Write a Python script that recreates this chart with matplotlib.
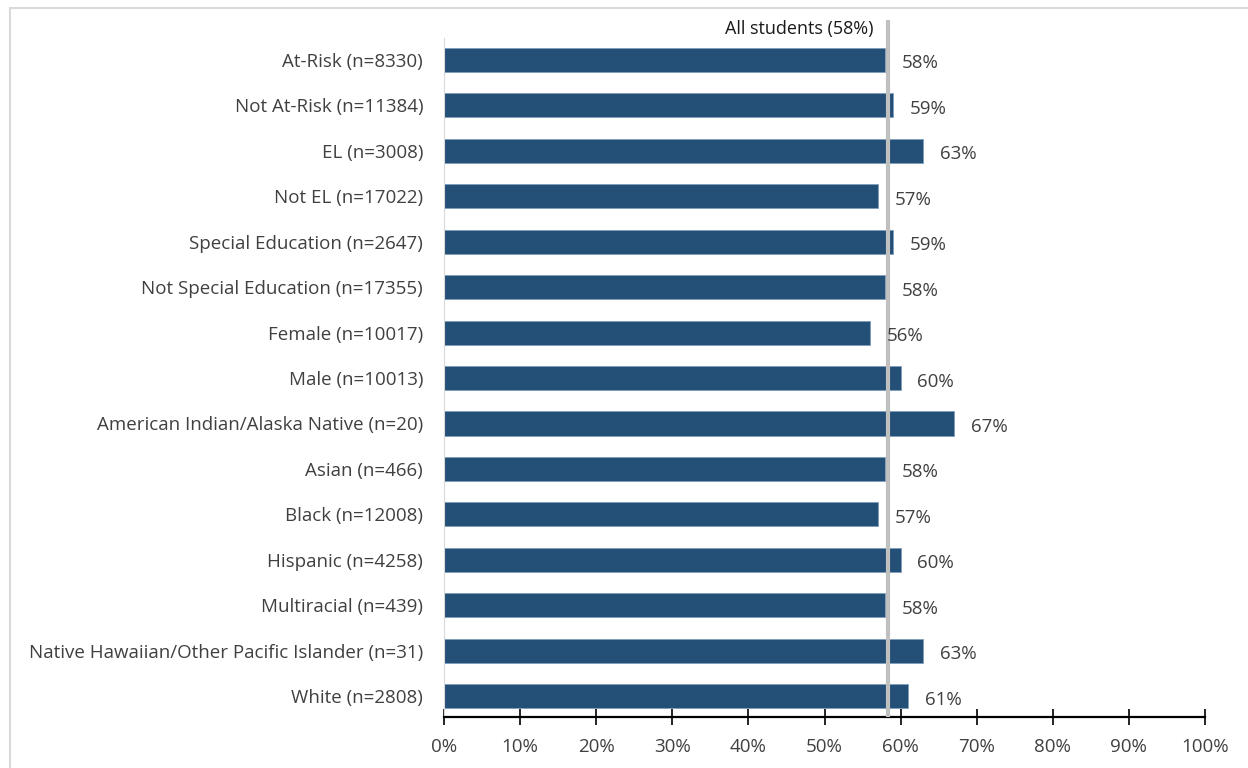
import matplotlib
matplotlib.use("Agg")
import matplotlib.pyplot as plt
from matplotlib.patches import Rectangle
from matplotlib.ticker import FuncFormatter

categories = [
    "At-Risk (n=8330)",
    "Not At-Risk (n=11384)",
    "EL (n=3008)",
    "Not EL (n=17022)",
    "Special Education (n=2647)",
    "Not Special Education (n=17355)",
    "Female (n=10017)",
    "Male (n=10013)",
    "American Indian/Alaska Native (n=20)",
    "Asian (n=466)",
    "Black (n=12008)",
    "Hispanic (n=4258)",
    "Multiracial (n=439)",
    "Native Hawaiian/Other Pacific Islander (n=31)",
    "White (n=2808)",
]
values = [58, 59, 63, 57, 59, 58, 56, 60, 67, 58, 57, 60, 58, 63, 61]
all_students = 58.3
all_label = "All students (58%)"
xticks = [0, 10, 20, 30, 40, 50, 60, 70, 80, 90, 100]

plt.rcParams["font.family"] = ["Open Sans", "DejaVu Sans"]
FS = 13.5
W, H = 1248, 768
fig = plt.figure(figsize=(W / 100, H / 100), dpi=100)

# outer frame
fig.patches.append(Rectangle((10 / W, -0.05), 1.2, 1 - 8 / H + 0.05,
                             transform=fig.transFigure, fill=False,
                             edgecolor="#d9d9d9", linewidth=1.5, zorder=0))

ax = fig.add_axes([444 / W, 1 - 717 / H, (1205 - 444) / W, (717 - 20) / H])
ypos = list(range(len(categories)))
ax.barh(ypos, values, height=0.53, color="#244f77", edgecolor="#7f9dbb",
        linewidth=0.6, zorder=2)
ax.set_ylim(14.46, -0.88)
ax.set_xlim(0, 100)

ax.axvline(all_students, color="#c0c0c0", linewidth=3, zorder=3)
ax.text(all_students - 1.9, -0.68, all_label, ha="right", va="center",
        fontsize=FS - 0.5, color="#1a1a1a")

for y, v in zip(ypos, values):
    ax.annotate(f"{v}%", (v, y), xytext=(12, -2.5), textcoords="offset points",
                ha="left", va="center", fontsize=FS, color="#404040")

ax.set_yticks(ypos)
ax.set_yticklabels(categories, fontsize=FS, color="#404040")
ax.tick_params(axis="y", length=0, pad=15)

ax.set_xticks(xticks)
ax.xaxis.set_major_formatter(FuncFormatter(lambda x, p: f"{int(x)}%"))
ax.tick_params(axis="x", direction="inout", length=12, width=1.2,
               color="black", labelsize=FS, labelcolor="#404040", pad=9)

for s in ["top", "right"]:
    ax.spines[s].set_visible(False)
ax.spines["left"].set_color("#d9d9d9")
ax.spines["left"].set_bounds(14.46, -0.48)
ax.spines["bottom"].set_color("black")
ax.spines["bottom"].set_linewidth(1.6)
ax.patch.set_alpha(0)

fig.savefig("out.png", dpi=100)
